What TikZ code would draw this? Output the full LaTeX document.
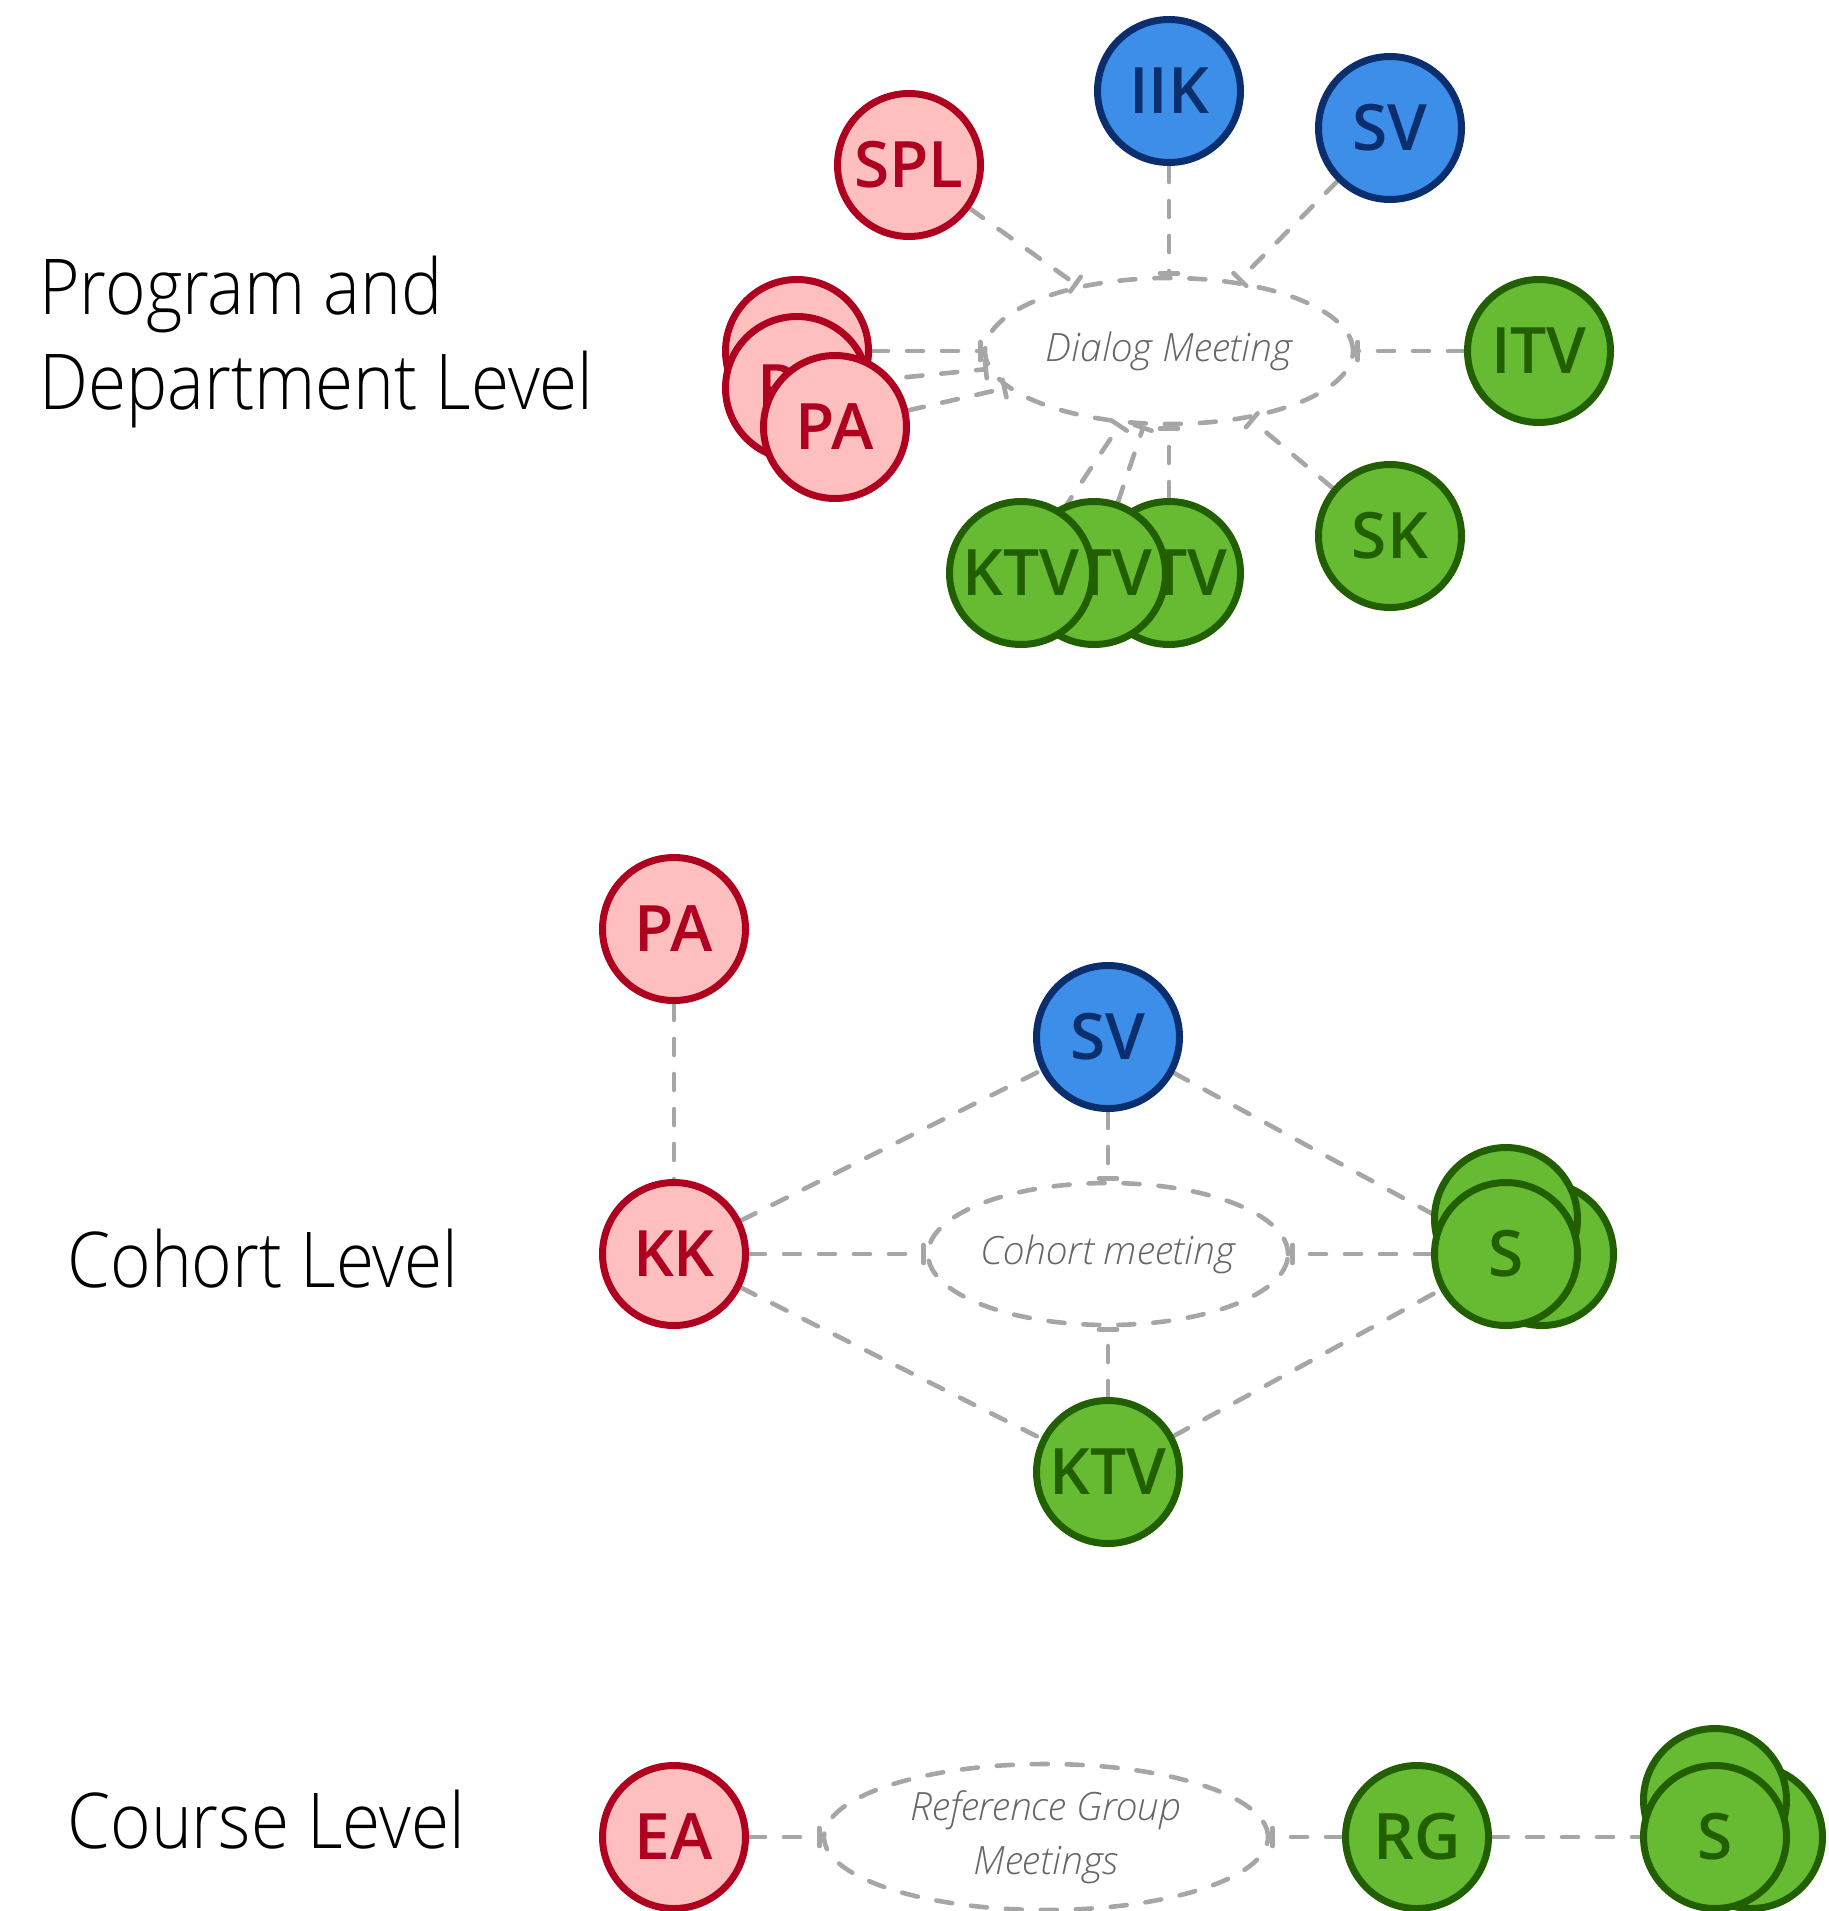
\documentclass[tikz,border=0pt]{standalone}
\usepackage{fontspec}
\setmainfont{Open Sans}
\usepackage{xcolor}
\usetikzlibrary{shapes.geometric,arrows.meta,backgrounds,positioning}

\IfFontExistsTF{Open Sans Light}{\newfontfamily\lightfont{Open Sans Light}\newfontfamily\levelfont{Open Sans Light}[FakeStretch=0.9]}{\newfontfamily\lightfont{Open Sans}\newfontfamily\levelfont{Open Sans}[FakeStretch=0.9]}
\IfFontExistsTF{Open Sans SemiBold}{\newfontfamily\nodefont{Open Sans SemiBold}}{%
	\IfFontExistsTF{Open Sans Semibold}{\newfontfamily\nodefont{Open Sans Semibold}}{\newcommand\nodefont{\bfseries}}}

\definecolor{redfill}{HTML}{FFBFBF}
\definecolor{redline}{HTML}{B00020}
\definecolor{bluefill}{HTML}{3D8EE8}
\definecolor{blueline}{HTML}{0B2F6E}
\definecolor{greenfill}{HTML}{66BB33}
\definecolor{greenline}{HTML}{225F00}
\definecolor{linkgray}{HTML}{A6A6A6}
\definecolor{meetgray}{HTML}{666666}

\begin{document}
\begin{tikzpicture}[x=0.5pt,y=-0.5pt,
	party/.style={circle,line width=3.5pt,minimum size=71.5pt,inner sep=0pt,font=\nodefont\fontsize{32}{32}\selectfont},
	redp/.style={party,fill=redfill,draw=redline,text=redline},
	bluep/.style={party,fill=bluefill,draw=blueline,text=blueline},
	greenp/.style={party,fill=greenfill,draw=greenline,text=greenline},
	meeting/.style={ellipse,draw=linkgray,line width=2.3pt,line cap=round,dash pattern=on 8pt off 9.5pt,inner sep=0pt,text=meetgray,font=\lightfont\itshape\fontsize{19.5}{27}\selectfont},
	level/.style={anchor=base west,inner sep=0pt,font=\levelfont\fontsize{38.5}{47}\selectfont},
	link/.style={draw=linkgray,line width=2.3pt,line cap=round,dash pattern=on 8pt off 9.5pt},
	tolink/.style={link,-{Bar[width=9pt,line cap=round]}}]
	\useasboundingbox (0,0) rectangle (1828,1911);

	% levels
	\node[level] (lvlprog) at (39,314) {Program and};
	\node[level] (lvldept) at (39,409) {Department Level};
	\node[level] (lvlcoh) at (67,1287) {Cohort Level};
	\node[level] (lvlcourse) at (67,1848) {Course Level};

	% program and department level
	\node[meeting,minimum width=184pt,minimum height=73pt] (dialog) at (1169,351) {Dialog Meeting};
	\node[redp] (paA) at (797,351) {};
	\node[redp] (paB) at (797,388) {PA};
	\node[redp] (paC) at (835,427) {PA};
	\node[redp] (spl) at (909,165) {SPL};
	\node[bluep] (iik) at (1169,91) {IIK};
	\node[bluep] (svtop) at (1390,128) {SV};
	\node[greenp] (itv) at (1539,351) {ITV};
	\node[greenp] (sk) at (1390,536) {SK};
	\node[greenp] (ktvC) at (1169,573) {KTV};
	\node[greenp] (ktvB) at (1094,573) {KTV};
	\node[greenp] (ktvA) at (1021,573) {KTV};

	% cohort level
	\node[meeting,minimum width=180pt,minimum height=71pt] (cohort) at (1108,1254) {Cohort meeting};
	\node[redp] (pacoh) at (674,929) {PA};
	\node[bluep] (svcoh) at (1108,1037) {SV};
	\node[redp] (kk) at (674,1254) {KK};
	\node[greenp] (sC) at (1542,1254) {};
	\node[greenp] (sB) at (1506,1219) {};
	\node[greenp] (sA) at (1506,1254) {S};
	\node[greenp] (ktvcoh) at (1108,1472) {KTV};

	% course level
	\node[meeting,align=center,minimum width=222pt,minimum height=73pt] (refgroup) at (1046,1837) {Reference Group\\Meetings};
	\node[redp] (ea) at (674,1837) {EA};
	\node[greenp] (rg) at (1417,1837) {RG};
	\node[greenp] (csC) at (1751,1837) {};
	\node[greenp] (csB) at (1715,1800) {};
	\node[greenp] (csA) at (1715,1837) {S};

	\begin{scope}[on background layer]
		\draw[tolink] (spl) -- (dialog);
		\draw[tolink] (iik) -- (dialog);
		\draw[tolink] (svtop) -- (dialog);
		\draw[tolink] (itv) -- (dialog);
		\draw[tolink] (sk) -- (dialog);
		\draw[tolink] (ktvA) -- (dialog);
		\draw[tolink] (ktvB) -- (dialog);
		\draw[tolink] (ktvC) -- (dialog);
		\draw[tolink] (paA) -- (dialog);
		\draw[tolink] (paB) -- (dialog);
		\draw[tolink] (paC) -- (dialog);

		\draw[link] (pacoh) -- (kk);
		\draw[link] (kk) -- (svcoh);
		\draw[link] (svcoh) -- (sA);
		\draw[link] (kk) -- (ktvcoh);
		\draw[link] (ktvcoh) -- (sA);
		\draw[tolink] (kk) -- (cohort);
		\draw[tolink] (sA) -- (cohort);
		\draw[tolink] (svcoh) -- (cohort);
		\draw[tolink] (ktvcoh) -- (cohort);

		\draw[tolink] (ea) -- (refgroup);
		\draw[tolink] (rg) -- (refgroup);
		\draw[link] (rg) -- (csA);
	\end{scope}
\end{tikzpicture}
\end{document}
